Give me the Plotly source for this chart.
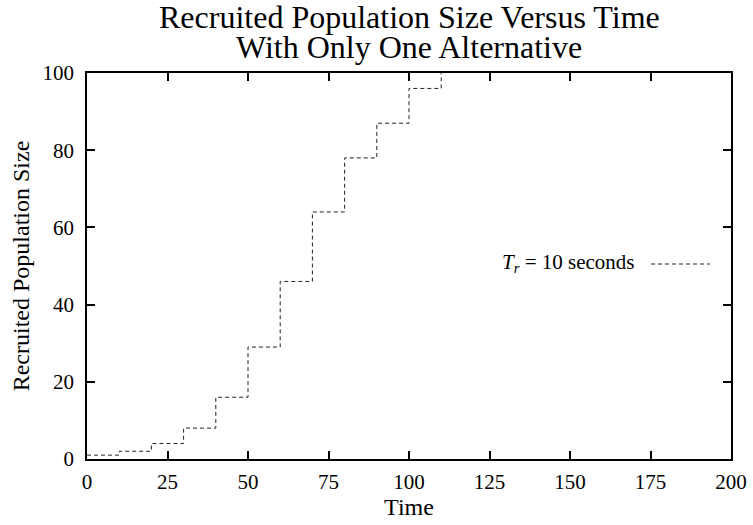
import plotly.graph_objects as go

time = [0, 10, 20, 30, 40, 50, 60, 70, 80, 90, 100, 110]
population = [1, 2, 4, 8, 16, 29, 46, 64, 78, 87, 96, 100]
x_ticks = [0, 25, 50, 75, 100, 125, 150, 175, 200]
y_ticks = [0, 20, 40, 60, 80, 100]
series_label = "<i>T</i><sub><i>r</i></sub> = 10 seconds"
title_lines = ["Recruited Population Size Versus Time", "With Only One Alternative"]

FONT = "Liberation Serif"
L, R, T, B = 87, 22, 73, 66
W, H = 753, 525
plot_w = W - L - R
plot_h = H - T - B


def px_x(px):
    return (px - L) / plot_w


def px_y(py):
    return 1 - (py - T) / plot_h


fig = go.Figure()
fig.add_trace(go.Scatter(
    x=time, y=population, mode="lines", line_shape="hv",
    line=dict(color="#222222", width=1, dash="4px,3px"),
    showlegend=False, cliponaxis=True,
))

axis_common = dict(
    showgrid=False, zeroline=False, showline=True, linecolor="black", linewidth=1.5,
    mirror="ticks", ticks="inside", ticklen=8, tickwidth=1.5, tickcolor="black",
    tickfont=dict(family=FONT, size=21, color="black"), automargin=False,
)
fig.update_xaxes(range=[0, 200], tickvals=x_ticks, ticklabelstandoff=3,
                 title=dict(text="Time", font=dict(family=FONT, size=24, color="black"), standoff=4),
                 **axis_common)
fig.update_yaxes(range=[0, 100], tickvals=y_ticks, ticklabelstandoff=7,
                 title=dict(text="Recruited Population Size", font=dict(family=FONT, size=24, color="black"), standoff=6),
                 **axis_common)

# legend: text then line sample (gnuplot-style key)
fig.add_annotation(xref="paper", yref="paper", x=px_x(637), y=px_y(263),
                   text=series_label, showarrow=False, xanchor="right", yanchor="middle",
                   font=dict(family=FONT, size=21, color="black"))
fig.add_shape(type="line", xref="paper", yref="paper",
              x0=px_x(651), x1=px_x(710), y0=px_y(264), y1=px_y(264),
              line=dict(color="#222222", width=1, dash="4px,3px"))

# two-line title with tight spacing
for i, line in enumerate(title_lines):
    fig.add_annotation(xref="paper", yref="paper", x=0.5, y=px_y(17 + 30 * i),
                       text=line, showarrow=False, xanchor="center", yanchor="middle",
                       font=dict(family=FONT, size=32, color="black"))

fig.update_layout(
    width=W, height=H,
    margin=dict(l=L, r=R, t=T, b=B),
    paper_bgcolor="white", plot_bgcolor="white",
    font=dict(family=FONT, color="black"),
)
fig.write_html("out.html")
